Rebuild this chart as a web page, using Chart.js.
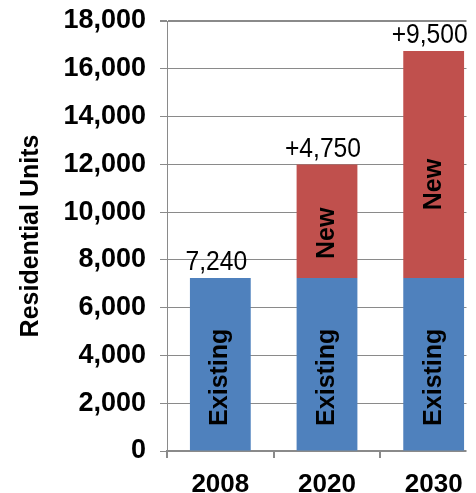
<!DOCTYPE html>
<html><head><meta charset="utf-8">
<script src="https://cdn.jsdelivr.net/npm/chart.js@4/dist/chart.umd.min.js"></script>
<style>
html,body{margin:0;padding:0;background:#fff;overflow:hidden;}
#wrap{position:relative;width:476px;height:493px;overflow:hidden;}
canvas{display:block;}
</style></head><body>
<div id="wrap"><canvas id="c" width="497" height="493"></canvas></div>
<script>
const categories = ['2008', '2020', '2030'];
const existingUnits = [7240, 7240, 7240];
const newUnits = [null, 4750, 9500];
const seriesNames = ['Existing', 'New'];
const yAxisTitle = 'Residential Units';
const yMin = 0, yMax = 18000, yStep = 2000;

const FONT = '"Liberation Sans", Arial, sans-serif';
const GRID = '#8a8a8a';
const fmt = v => v.toLocaleString('en-US');

const barLabels = {
  id: 'barLabels',
  afterDatasetsDraw(chart) {
    const ctx = chart.ctx;
    // right edge of plot is cut off in the original
    ctx.save();
    ctx.fillStyle = '#fff';
    ctx.fillRect(466.5, 0, chart.width, chart.height);
    ctx.restore();

    const metas = [chart.getDatasetMeta(0), chart.getDatasetMeta(1)];
    const shifts = [[13, 13, 13], [0, 12, 20]];
    ctx.save();
    ctx.fillStyle = '#000';
    metas.forEach((meta, di) => {
      meta.data.forEach((bar, i) => {
        const v = chart.data.datasets[di].data[i];
        if (!v) return;
        const p = bar.getProps(['x', 'y', 'base'], true);
        const cy = (p.y + p.base) / 2 + shifts[di][i];
        ctx.save();
        ctx.translate(p.x, cy);
        ctx.rotate(-Math.PI / 2);
        ctx.font = 'bold 25px ' + FONT;
        ctx.textAlign = 'center';
        ctx.textBaseline = 'middle';
        ctx.fillText(seriesNames[di], 0, 0);
        ctx.restore();
      });
    });
    categories.forEach((c, i) => {
      const hasNew = !!newUnits[i];
      const bar = hasNew ? metas[1].data[i] : metas[0].data[i];
      const text = hasNew ? '+' + fmt(newUnits[i]) : fmt(existingUnits[i]);
      const p = bar.getProps(['x', 'y'], true);
      ctx.save();
      ctx.translate(p.x - 4, p.y - 8);
      ctx.scale(0.88, 1);
      ctx.font = '28px ' + FONT;
      ctx.textAlign = 'center';
      ctx.textBaseline = 'alphabetic';
      ctx.fillText(text, 0, 0);
      ctx.restore();
    });
    ctx.restore();
  }
};

new Chart(document.getElementById('c'), {
  type: 'bar',
  data: {
    labels: categories,
    datasets: [
      { label: seriesNames[0], data: existingUnits, backgroundColor: '#4F81BD', borderWidth: 0 },
      { label: seriesNames[1], data: newUnits, backgroundColor: '#C0504D', borderWidth: 0 }
    ]
  },
  options: {
    responsive: false,
    animation: false,
    events: [],
    layout: { padding: { left: 0, top: 21, right: 10, bottom: 0 } },
    datasets: { bar: { categoryPercentage: 1, barPercentage: 0.57 } },
    plugins: { legend: { display: false }, tooltip: { enabled: false } },
    scales: {
      x: {
        stacked: true,
        afterFit(s) { s.height = 42; s.paddingLeft = 0; s.paddingRight = 0; },
        grid: { display: true, drawOnChartArea: false, drawTicks: true, tickLength: 7, color: GRID, lineWidth: 2, offset: true },
        border: { display: true, color: GRID, width: 2 },
        ticks: { color: '#000', padding: 11, font: { family: FONT, size: 26, weight: 'bold' }, maxRotation: 0 }
      },
      y: {
        stacked: true,
        min: yMin, max: yMax,
        afterFit(s) { s.width = 167; s.paddingTop = 0; s.paddingBottom = 0; },
        grid: { color: GRID, lineWidth: c => (c.tick && c.tick.value === yMax ? 2 : 1), tickLength: 7 },
        border: { display: true, color: GRID, width: 1 },
        ticks: { stepSize: yStep, color: '#000', padding: 14, font: { family: FONT, size: 27, weight: 'bold' }, callback: v => fmt(v) },
        title: { display: true, text: yAxisTitle, color: '#000', padding: { top: 16, bottom: 0 }, font: { family: FONT, size: 25, weight: 'bold' } }
      }
    }
  },
  plugins: [barLabels]
});
</script>
</body></html>
